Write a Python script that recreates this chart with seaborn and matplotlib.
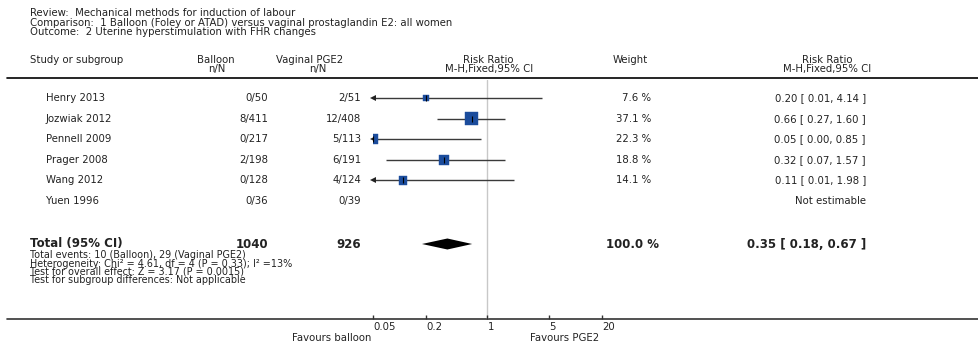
import numpy as np
import pandas as pd
import matplotlib
matplotlib.use("Agg")
import matplotlib.pyplot as plt
import seaborn as sns

# data
studies = ["Henry 2013", "Jozwiak 2012", "Pennell 2009", "Prager 2008", "Wang 2012", "Yuen 1996"]
balloon_nN = ["0/50", "8/411", "0/217", "2/198", "0/128", "0/36"]
pge2_nN = ["2/51", "12/408", "5/113", "6/191", "4/124", "0/39"]
rr = [0.20, 0.66, 0.05, 0.32, 0.11, np.nan]
rr_low = [0.01, 0.27, 0.00, 0.07, 0.01, np.nan]
rr_high = [4.14, 1.60, 0.85, 1.57, 1.98, np.nan]
weights = [7.6, 37.1, 22.3, 18.8, 14.1, np.nan]
rr_labels = ["0.20 [ 0.01, 4.14 ]", "0.66 [ 0.27, 1.60 ]", "0.05 [ 0.00, 0.85 ]",
             "0.32 [ 0.07, 1.57 ]", "0.11 [ 0.01, 1.98 ]", "Not estimable"]
total_rr = 0.35
total_low = 0.18
total_high = 0.67
total_balloon = "1040"
total_pge2 = "926"
total_weight = "100.0 %"
total_label = "0.35 [ 0.18, 0.67 ]"
x_ticks = [0.05, 0.2, 1, 5, 20]
x_ticklabels = ["0.05", "0.2", "1", "5", "20"]
header_lines = [
    "Review:  Mechanical methods for induction of labour",
    "Comparison:  1 Balloon (Foley or ATAD) versus vaginal prostaglandin E2: all women",
    "Outcome:  2 Uterine hyperstimulation with FHR changes",
]
footer_lines = [
    "Total events: 10 (Balloon), 29 (Vaginal PGE2)",
    "Heterogeneity: Chi\u00b2 = 4.61, df = 4 (P = 0.33); I\u00b2 =13%",
    "Test for overall effect: Z = 3.17 (P = 0.0015)",
    "Test for subgroup differences: Not applicable",
]

sns.set_theme(style="white")
plt.rcParams["font.family"] = ["DejaVu Sans"]

W, H = 979, 345
fig = plt.figure(figsize=(W / 100, H / 100), dpi=100)

# background axes in pixel coordinates for the table text
bg = fig.add_axes([0, 0, 1, 1])
bg.set_xlim(0, W)
bg.set_ylim(H, 0)
bg.axis("off")

txt = "#222222"
fs = 7.3
fsb = 8.5

row_y = 98 + 20.6 * np.arange(len(studies))
total_y = 244

for i, line in enumerate(header_lines):
    bg.text(30, 13 + 9.5 * i, line, fontsize=fs, color=txt, va="center")

bg.text(30, 60, "Study or subgroup", fontsize=fs, color=txt, va="center")
bg.text(216, 60, "Balloon", fontsize=fs, color=txt, va="center", ha="center")
bg.text(217, 69, "n/N", fontsize=fs, color=txt, va="center", ha="center")
bg.text(310, 60, "Vaginal PGE2", fontsize=fs, color=txt, va="center", ha="center")
bg.text(318, 69, "n/N", fontsize=fs, color=txt, va="center", ha="center")
bg.text(488, 60, "Risk Ratio", fontsize=fs, color=txt, va="center", ha="center")
bg.text(489, 69, "M-H,Fixed,95% CI", fontsize=fs, color=txt, va="center", ha="center")
bg.text(630, 60, "Weight", fontsize=fs, color=txt, va="center", ha="center")
bg.text(827, 60, "Risk Ratio", fontsize=fs, color=txt, va="center", ha="center")
bg.text(827, 69, "M-H,Fixed,95% CI", fontsize=fs, color=txt, va="center", ha="center")
bg.plot([7, W], [78, 78], color="black", lw=1.2)

for y, s, b, p, w, lab in zip(row_y, studies, balloon_nN, pge2_nN, weights, rr_labels):
    bg.text(46, y, s, fontsize=fs, color=txt, va="center")
    bg.text(268, y, b, fontsize=fs, color=txt, va="center", ha="right")
    bg.text(361, y, p, fontsize=fs, color=txt, va="center", ha="right")
    if not np.isnan(w):
        bg.text(651, y, f"{w:.1f} %", fontsize=fs, color=txt, va="center", ha="right")
    bg.text(866, y, lab, fontsize=fs, color=txt, va="center", ha="right")

bg.text(30, total_y, "Total (95% CI)", fontsize=fsb, color=txt, va="center", weight="bold")
bg.text(268, total_y, total_balloon, fontsize=fsb, color=txt, va="center", ha="right", weight="bold")
bg.text(361, total_y, total_pge2, fontsize=fsb, color=txt, va="center", ha="right", weight="bold")
bg.text(659, total_y, total_weight, fontsize=fsb, color=txt, va="center", ha="right", weight="bold")
bg.text(866, total_y, total_label, fontsize=fsb, color=txt, va="center", ha="right", weight="bold")

for i, line in enumerate(footer_lines):
    bg.text(30, 255.5 + 8.1 * i, line, fontsize=6.9, color=txt, va="center")

bg.plot([7, W], [319, 319], color="#333333", lw=1.2)
bg.text(371, 338, "Favours balloon", fontsize=fs, color=txt, va="center", ha="right")
bg.text(565, 338, "Favours PGE2", fontsize=fs, color=txt, va="center", ha="center")

# forest axes: log scale, y in the same pixel rows
x0, x1, y0, y1 = 373, 602, 80, 319
ax = fig.add_axes([x0 / W, (H - y1) / H, (x1 - x0) / W, (y1 - y0) / H])
ax.set_xscale("log")
ax.set_xlim(x_ticks[0], x_ticks[-1])
ax.set_ylim(y1, y0)
ax.patch.set_visible(False)
for sp in ax.spines.values():
    sp.set_visible(False)

ax.axvline(1, color="#c8c8c8", lw=1, zorder=0)

df = pd.DataFrame({"y": row_y, "rr": rr, "lo": rr_low, "hi": rr_high, "w": weights}).dropna()
xmin, xmax = ax.get_xlim()
lo_c = df["lo"].clip(lower=xmin)
hi_c = df["hi"].clip(upper=xmax)
ax.hlines(df["y"], lo_c, hi_c, color="#3a3a3a", lw=1, zorder=1)
clipped = df["lo"] < xmin
ax.plot(lo_c[clipped], df["y"][clipped], marker="<", ls="none", color="#222222",
        ms=4.5, mew=0, zorder=2, clip_on=False)

k = 2.55
sns.scatterplot(data=df, x="rr", y="y", size="w", sizes=(df["w"].min() * k, df["w"].max() * k),
                size_norm=(df["w"].min(), df["w"].max()), marker="s", color="#1b4c9c",
                edgecolor="#1b4c9c", linewidth=0.3, legend=False, ax=ax, zorder=3)
ax.plot(df["rr"], df["y"], marker="|", ls="none", color="black", ms=5, mew=0.8, zorder=4)

ax.fill([total_low, total_rr, total_high, total_rr],
        [total_y, total_y - 5.5, total_y, total_y + 5.5], color="black", lw=0, zorder=3)

ax.set_xticks(x_ticks)
ax.set_xticklabels(x_ticklabels)
ax.xaxis.set_minor_locator(matplotlib.ticker.NullLocator())
ax.set_yticks([])
ax.set_xlabel("")
ax.set_ylabel("")
ax.tick_params(axis="x", direction="in", length=3, width=1, color="#333333", pad=2,
               labelsize=fs, labelcolor=txt, bottom=True)
for lab in ax.get_xticklabels():
    lab.set_horizontalalignment("left")

fig.savefig("out.png", dpi=100)
